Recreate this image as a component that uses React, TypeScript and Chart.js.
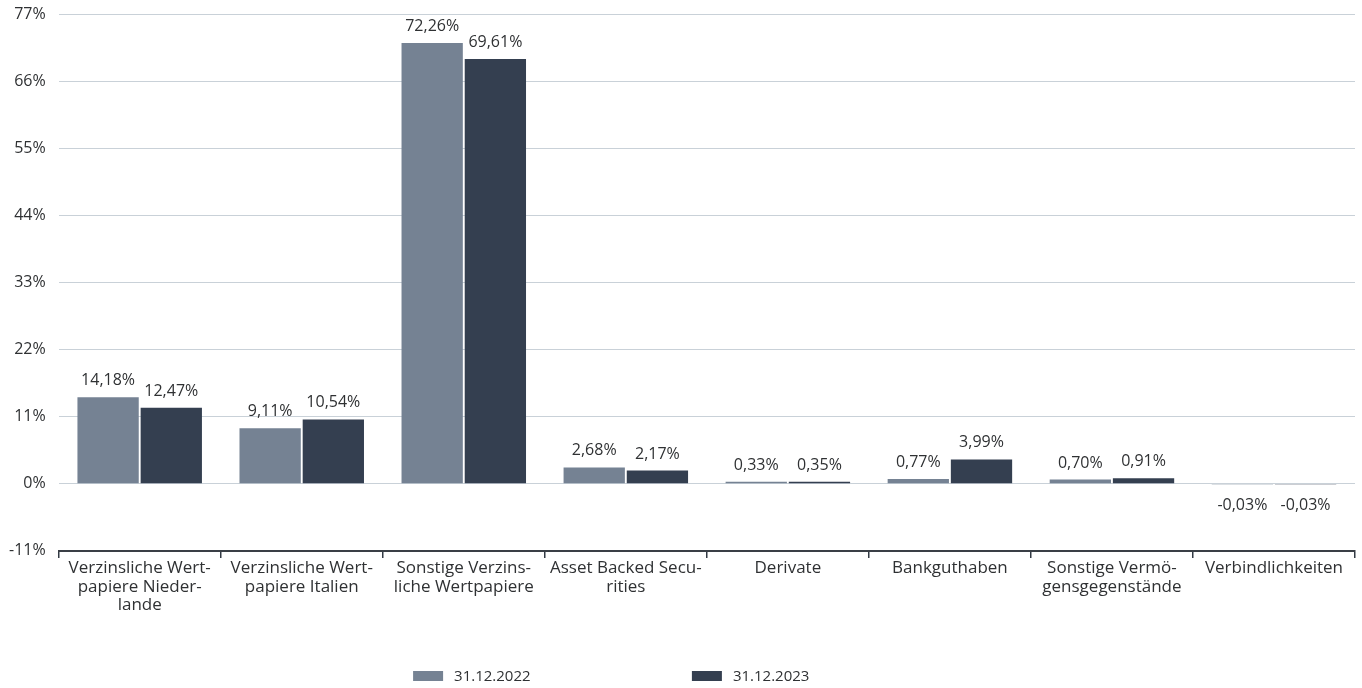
import React, { useEffect, useRef } from "react";
import { Chart, registerables } from "chart.js";

Chart.register(...registerables);

const categories: string[][] = [
  ["Verzinsliche Wert-", "papiere Nieder-", "lande"],
  ["Verzinsliche Wert-", "papiere Italien"],
  ["Sonstige Verzins-", "liche Wertpapiere"],
  ["Asset Backed Secu-", "rities"],
  ["Derivate"],
  ["Bankguthaben"],
  ["Sonstige Vermö-", "gensgegenstände"],
  ["Verbindlichkeiten"],
];

const series2022: number[] = [14.18, 9.11, 72.26, 2.68, 0.33, 0.77, 0.7, -0.03];
const series2023: number[] = [12.47, 10.54, 69.61, 2.17, 0.35, 3.99, 0.91, -0.03];
const seriesLabels: string[] = ["31.12.2022", "31.12.2023"];

const yMin = -11;
const yMax = 77;
const yStep = 11;

const COLOR_LIGHT = "#758293";
const COLOR_DARK = "#343f50";
const TEXT = "#2f3133";
const FONT = "'Open Sans', sans-serif";

const fmt = (v: number) => v.toFixed(2).replace(".", ",") + "%";

const dataLabelPlugin = {
  id: "dataLabels",
  afterDatasetsDraw(chart: any) {
    const ctx = chart.ctx;
    ctx.save();
    ctx.font = `16px ${FONT}`;
    ctx.fillStyle = TEXT;
    ctx.textAlign = "center";
    ctx.textBaseline = "alphabetic";
    chart.data.datasets.forEach((ds: any, i: number) => {
      const meta = chart.getDatasetMeta(i);
      meta.data.forEach((bar: any, j: number) => {
        const v = ds.data[j] as number;
        if (v >= 0) {
          ctx.fillText(fmt(v), bar.x, bar.y - 12);
        } else {
          ctx.fillText(fmt(v), bar.x, bar.base + 26);
        }
      });
    });
    ctx.restore();
  },
};

const legendPlugin = {
  id: "customLegend",
  afterDraw(chart: any) {
    const ctx = chart.ctx;
    ctx.save();
    ctx.font = `15px ${FONT}`;
    ctx.fillStyle = TEXT;
    ctx.textBaseline = "middle";
    ctx.textAlign = "left";
    const y = 676;
    const starts = [chart.width * 0.3033, chart.width * 0.508];
    chart.data.datasets.forEach((ds: any, i: number) => {
      const x = starts[i];
      ctx.fillStyle = ds.backgroundColor;
      ctx.fillRect(x, y - 5, 30, 10);
      ctx.fillStyle = TEXT;
      ctx.fillText(ds.label, x + 41, y + 1);
    });
    ctx.restore();
  },
};

export default function App() {
  const ref = useRef<HTMLCanvasElement>(null);
  useEffect(() => {
    if (!ref.current) return;
    const chart = new Chart(ref.current, {
      type: "bar",
      data: {
        labels: categories,
        datasets: [
          {
            label: seriesLabels[0],
            data: series2022,
            backgroundColor: COLOR_LIGHT,
            categoryPercentage: 0.78,
            barPercentage: 0.97,
          },
          {
            label: seriesLabels[1],
            data: series2023,
            backgroundColor: COLOR_DARK,
            categoryPercentage: 0.78,
            barPercentage: 0.97,
          },
        ],
      },
      options: {
        animation: false,
        responsive: false,
        maintainAspectRatio: false,
        layout: { padding: { top: 0, right: 7, bottom: 72, left: -4 } },
        plugins: {
          legend: { display: false },
          tooltip: { enabled: false },
        },
        scales: {
          x: {
            grid: {
              offset: true,
              drawOnChartArea: false,
              drawTicks: true,
              tickLength: 7,
              color: "#333a44",
              lineWidth: 1.5,
            },
            border: { display: true, color: "#3a3f46", width: 2 },
            ticks: {
              color: TEXT,
              font: { family: FONT, size: 17, lineHeight: 1.1 },
              padding: 1,
              maxRotation: 0,
              autoSkip: false,
            },
          },
          y: {
            min: yMin,
            max: yMax,
            afterFit: (scale: any) => {
              scale.paddingTop = 14;
            },
            grid: {
              color: (c: any) => (c.tick && c.tick.value === yMin ? "rgba(0,0,0,0)" : "#c9d1d8"),
              drawTicks: false,
              lineWidth: 1,
            },
            border: { display: false },
            ticks: {
              stepSize: yStep,
              color: TEXT,
              font: { family: FONT, size: 16 },
              padding: 13,
              callback: (v: any) => `${v}%`,
            },
          },
        },
      },
      plugins: [dataLabelPlugin, legendPlugin],
    });
    return () => chart.destroy();
  }, []);
  return (
    <div style={{ position: "fixed", left: 0, top: 0, width: 1362, height: 688, background: "#fff" }}>
      <canvas ref={ref} width={1362} height={688} style={{ width: 1362, height: 688 }} />
    </div>
  );
}
